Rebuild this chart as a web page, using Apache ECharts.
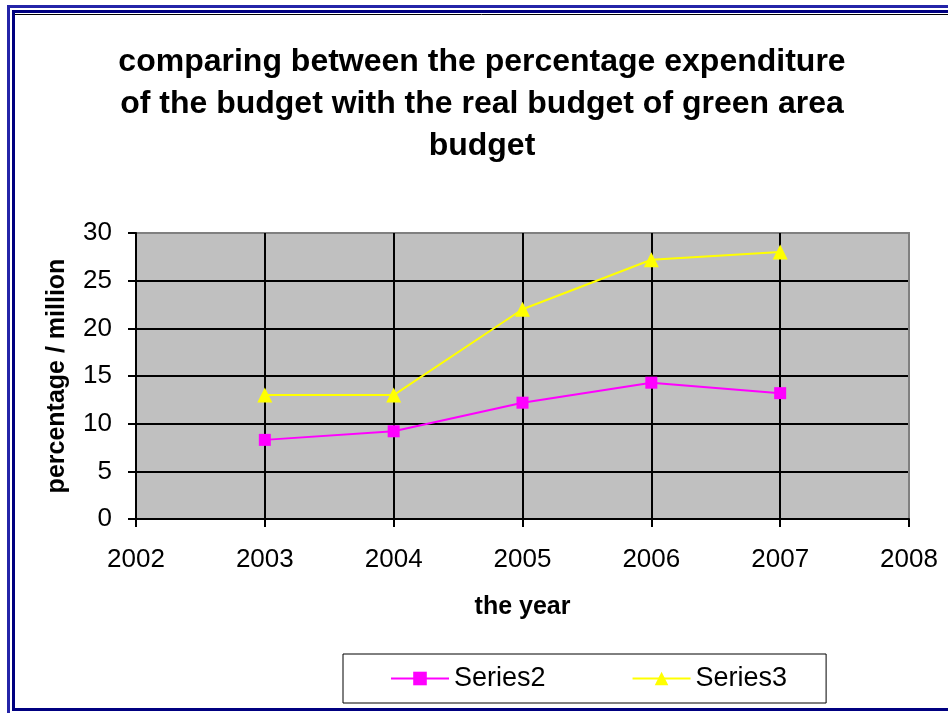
<!DOCTYPE html>
<html>
<head>
<meta charset="utf-8">
<script src="https://cdn.jsdelivr.net/npm/echarts@6/dist/echarts.min.js"></script>
<style>
    html, body { margin: 0; padding: 0; background: #fff; }
    #chart { width: 948px; height: 713px; }
</style>
</head>
<body>
<div id="chart"></div>
<script>
// data
var years = [2003, 2004, 2005, 2006, 2007];
var series2 = [8.3, 9.2, 12.2, 14.3, 13.2];
var series3 = [13, 13, 22, 27.2, 28];
var xTicks = { min: 2002, max: 2008, step: 1 };
var yTicks = { min: 0, max: 30, step: 5 };
var chartTitle = 'comparing between the percentage expenditure\nof the budget with the real budget of green area\nbudget';

function toPairs(xs, ys) {
    var out = [];
    for (var i = 0; i < xs.length; i++) {
        out.push([xs[i], ys[i]]);
    }
    return out;
}

// 网格线: 最后一条灰色
function lineColors(t) {
    var c = [];
    var n = Math.round((t.max - t.min) / t.step) + 1;
    for (var i = 0; i < n; i++) c.push(i === n - 1 ? '#808080' : '#000');
    return c;
}

var chart = echarts.init(document.getElementById('chart'));
var fontFam = 'Arial, "Liberation Sans", sans-serif';

var option = {
    backgroundColor: '#fff',
    animation: false,
    textStyle: { fontFamily: fontFam },
    graphic: [
        { type: 'rect', shape: { x: 8.5, y: 6.5, width: 980, height: 740 }, style: { fill: null, stroke: '#2424a8', lineWidth: 3 } },
        { type: 'rect', shape: { x: 13.5, y: 11.5, width: 980, height: 698 }, style: { fill: null, stroke: '#000080', lineWidth: 3 } },
        { type: 'line', shape: { x1: 15, y1: 14.5, x2: 948, y2: 14.5 }, style: { stroke: '#000', lineWidth: 1 } },
        // 标题
        {
            type: 'text',
            x: 482,
            y: 41,
            style: {
                text: chartTitle,
                align: 'center',
                verticalAlign: 'top',
                fontSize: 32,
                fontWeight: 'bold',
                fontFamily: fontFam,
                lineHeight: 42,
                fill: '#000'
            }
        }
    ],
    legend: {
        left: 343,
        top: 654,
        padding: [11, 39, 11, 47],
        itemGap: 86,
        itemWidth: 58,
        itemHeight: 17,
        borderColor: '#000',
        borderWidth: 1,
        textStyle: { fontSize: 27, color: '#000', fontFamily: fontFam },
        data: ['Series2', 'Series3']
    },
    grid: {
        left: 136,
        right: 39,
        top: 233,
        bottom: 194,
        show: true,
        backgroundColor: '#C0C0C0',
        borderColor: '#808080',
        borderWidth: 2
    },
    xAxis: {
        type: 'value',
        min: xTicks.min,
        max: xTicks.max,
        interval: xTicks.step,
        name: 'the year',
        nameLocation: 'middle',
        nameGap: 76,
        nameTextStyle: { fontSize: 25, fontWeight: 'bold', color: '#000', fontFamily: fontFam },
        axisLine: { lineStyle: { color: '#000', width: 2 } },
        axisTick: { show: true, length: 8, lineStyle: { color: '#000', width: 2 } },
        axisLabel: { fontSize: 26, color: '#000', margin: 28, formatter: function (v) { return String(v); } },
        splitLine: { show: true, lineStyle: { color: lineColors(xTicks), width: 2 } }
    },
    yAxis: {
        type: 'value',
        min: yTicks.min,
        max: yTicks.max,
        interval: yTicks.step,
        name: 'percentage / million',
        nameLocation: 'middle',
        nameGap: 66,
        nameTextStyle: { fontSize: 25, fontWeight: 'bold', color: '#000', fontFamily: fontFam },
        axisLine: { show: true, lineStyle: { color: '#000', width: 2 } },
        axisTick: { show: true, length: 8, lineStyle: { color: '#000', width: 2 } },
        axisLabel: { fontSize: 26, color: '#000', margin: 24 },
        splitLine: { show: true, lineStyle: { color: lineColors(yTicks), width: 2 } }
    },
    series: [
        {
            name: 'Series2',
            type: 'line',
            data: toPairs(years, series2),
            symbol: 'rect',
            symbolSize: 12,
            color: '#FF00FF',
            lineStyle: { color: '#FF00FF', width: 2 },
            itemStyle: { color: '#FF00FF' }
        },
        {
            name: 'Series3',
            type: 'line',
            data: toPairs(years, series3),
            symbol: 'triangle',
            symbolSize: 15,
            color: '#FFFF00',
            lineStyle: { color: '#FFFF00', width: 2 },
            itemStyle: { color: '#FFFF00' }
        }
    ]
};

chart.setOption(option);
</script>
</body>
</html>
